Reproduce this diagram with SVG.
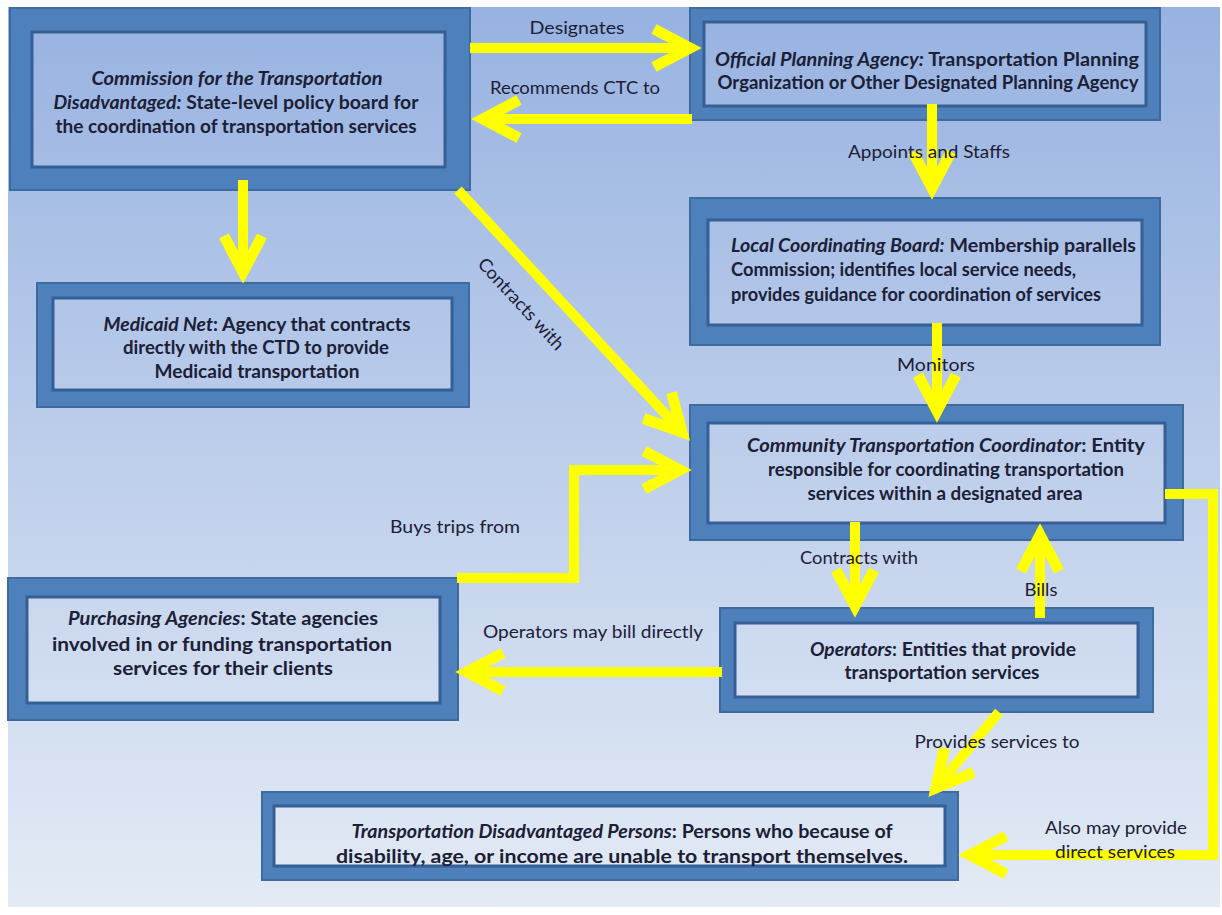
<svg xmlns="http://www.w3.org/2000/svg" width="1222" height="915" viewBox="0 0 1222 915">
<style>
.outer{fill:#4e80bc;stroke:#3f6a9e;stroke-width:2}
.inner{fill:url(#bg);stroke:#365f93;stroke-width:3}
.nt{font-family:Lato,"Liberation Sans",sans-serif;font-size:18px;font-weight:bold;fill:#1b2036}
.nt tspan.i{font-style:italic}
.lb{font-family:Lato,"Liberation Sans",sans-serif;font-size:18px;fill:#1b2036;text-anchor:middle}
.c{text-anchor:middle}
.ar{fill:none;stroke:#ffff00;stroke-width:10;marker-end:url(#chev)}
</style>
<defs>
<linearGradient id="bg" gradientUnits="userSpaceOnUse" x1="0" y1="0" x2="0" y2="915">
<stop offset="0" stop-color="#97b2e1"/>
<stop offset="1" stop-color="#e4ebf5"/>
</linearGradient>
<marker id="chev" markerUnits="userSpaceOnUse" orient="auto" refX="0" refY="0" markerWidth="1" markerHeight="1" overflow="visible">
<path d="M-36,-19 L0,0 L-36,19" fill="none" stroke="#ffff00" stroke-width="11" stroke-linejoin="miter"/>
</marker>
</defs>
<rect x="0" y="0" width="1222" height="915" fill="#ffffff"/>
<rect x="8" y="7" width="1212" height="900" fill="url(#bg)"/>

<g id="commission">
<rect class="outer" x="10" y="8" width="460" height="182"/>
<rect class="inner" x="32" y="32" width="413" height="135"/>
<text class="nt c" x="237" y="85" textLength="291" lengthAdjust="spacingAndGlyphs"><tspan class="i">Commission for the Transportation</tspan></text>
<text class="nt c" x="236" y="109" textLength="365" lengthAdjust="spacingAndGlyphs"><tspan class="i">Disadvantaged:</tspan> State-level policy board for</text>
<text class="nt c" x="236" y="133" textLength="361" lengthAdjust="spacingAndGlyphs">the coordination of transportation services</text>
</g>

<g id="opa">
<rect class="outer" x="690" y="8" width="470" height="112"/>
<rect class="inner" x="704" y="22" width="442" height="84"/>
<text class="nt c" x="927" y="66" textLength="424" lengthAdjust="spacingAndGlyphs"><tspan class="i">Official Planning Agency:</tspan> Transportation Planning</text>
<text class="nt c" x="928" y="89" textLength="421" lengthAdjust="spacingAndGlyphs">Organization or Other Designated Planning Agency</text>
</g>

<g id="lcb">
<rect class="outer" x="690" y="198" width="470" height="147"/>
<rect class="inner" x="708" y="220" width="434" height="105"/>
<text class="nt" x="731" y="252" textLength="405" lengthAdjust="spacingAndGlyphs"><tspan class="i">Local Coordinating Board:</tspan> Membership parallels</text>
<text class="nt" x="731" y="276" textLength="345" lengthAdjust="spacingAndGlyphs">Commission; identifies local service needs,</text>
<text class="nt" x="731" y="301" textLength="370" lengthAdjust="spacingAndGlyphs">provides guidance for coordination of services</text>
</g>

<g id="medicaid">
<rect class="outer" x="37" y="283" width="432" height="124"/>
<rect class="inner" x="53" y="298" width="399" height="92"/>
<text class="nt c" x="257" y="331" textLength="307" lengthAdjust="spacingAndGlyphs"><tspan class="i">Medicaid Net</tspan>: Agency that contracts</text>
<text class="nt c" x="256" y="354" textLength="266" lengthAdjust="spacingAndGlyphs">directly with the CTD to provide</text>
<text class="nt c" x="257" y="378" textLength="205" lengthAdjust="spacingAndGlyphs">Medicaid transportation</text>
</g>

<g id="ctc">
<rect class="outer" x="690" y="405" width="493" height="135"/>
<rect class="inner" x="708" y="423" width="457" height="100"/>
<text class="nt c" x="946" y="452" textLength="398" lengthAdjust="spacingAndGlyphs"><tspan class="i">Community Transportation Coordinator</tspan>: Entity</text>
<text class="nt c" x="946" y="476" textLength="356" lengthAdjust="spacingAndGlyphs">responsible for coordinating transportation</text>
<text class="nt c" x="945" y="500" textLength="275" lengthAdjust="spacingAndGlyphs">services within a designated area</text>
</g>

<g id="purchasing">
<rect class="outer" x="8" y="578" width="450" height="142"/>
<rect class="inner" x="27" y="597" width="413" height="106"/>
<text class="nt c" x="223" y="625" textLength="310" lengthAdjust="spacingAndGlyphs"><tspan class="i">Purchasing Agencies</tspan>: State agencies</text>
<text class="nt c" x="222" y="651" textLength="340" lengthAdjust="spacingAndGlyphs">involved in or funding transportation</text>
<text class="nt c" x="223" y="675" textLength="220" lengthAdjust="spacingAndGlyphs">services for their clients</text>
</g>

<g id="operators">
<rect class="outer" x="720" y="608" width="433" height="104"/>
<rect class="inner" x="735" y="623" width="403" height="74"/>
<text class="nt c" x="943" y="656" textLength="266" lengthAdjust="spacingAndGlyphs"><tspan class="i">Operators</tspan>: Entities that provide</text>
<text class="nt c" x="942" y="679" textLength="195" lengthAdjust="spacingAndGlyphs">transportation services</text>
</g>

<g id="tdp">
<rect class="outer" x="262" y="792" width="696" height="88"/>
<rect class="inner" x="274" y="806" width="671" height="60"/>
<text class="nt c" x="622" y="838" textLength="541" lengthAdjust="spacingAndGlyphs"><tspan class="i">Transportation Disadvantaged Persons</tspan>: Persons who because of</text>
<text class="nt c" x="622" y="863" textLength="572" lengthAdjust="spacingAndGlyphs">disability, age, or income are unable to transport themselves.</text>
</g>

<g id="connectors">
<path class="ar" d="M470,48 H690"/>
<path class="ar" d="M692,119 H483"/>
<path class="ar" d="M932,104 V188"/>
<path class="ar" d="M243,180 V272"/>
<path class="ar" d="M458,190 L682,432"/>
<path class="ar" d="M937,323 V411"/>
<path class="ar" d="M457,578 H574 V470 H680"/>
<path class="ar" d="M855,522 V606"/>
<path class="ar" d="M1040,618 V535"/>
<path class="ar" d="M722,672 H467"/>
<path class="ar" d="M999,712 L936,788"/>
<path class="ar" d="M1165,494 H1213 V855 H970"/>
<text class="lb" x="577" y="34" textLength="95" lengthAdjust="spacingAndGlyphs">Designates</text>
<text class="lb" x="575" y="94" textLength="170" lengthAdjust="spacingAndGlyphs">Recommends CTC to</text>
<text class="lb" x="929" y="158" textLength="162" lengthAdjust="spacingAndGlyphs">Appoints and Staffs</text>
<text class="lb" x="936" y="371" textLength="78" lengthAdjust="spacingAndGlyphs">Monitors</text>
<text class="lb" transform="translate(521,304) rotate(47.4)" x="0" y="6" textLength="118" lengthAdjust="spacingAndGlyphs">Contracts with</text>
<text class="lb" x="455" y="533" textLength="130" lengthAdjust="spacingAndGlyphs">Buys trips from</text>
<text class="lb" x="859" y="564" textLength="118" lengthAdjust="spacingAndGlyphs">Contracts with</text>
<text class="lb" x="1041" y="596" textLength="33" lengthAdjust="spacingAndGlyphs">Bills</text>
<text class="lb" x="593" y="638" textLength="220" lengthAdjust="spacingAndGlyphs">Operators may bill directly</text>
<text class="lb" x="997" y="748" textLength="165" lengthAdjust="spacingAndGlyphs">Provides services to</text>
<text class="lb" x="1116" y="834" textLength="142" lengthAdjust="spacingAndGlyphs">Also may provide</text>
<text class="lb" x="1115" y="858" textLength="120" lengthAdjust="spacingAndGlyphs">direct services</text>
</g>
</svg>
